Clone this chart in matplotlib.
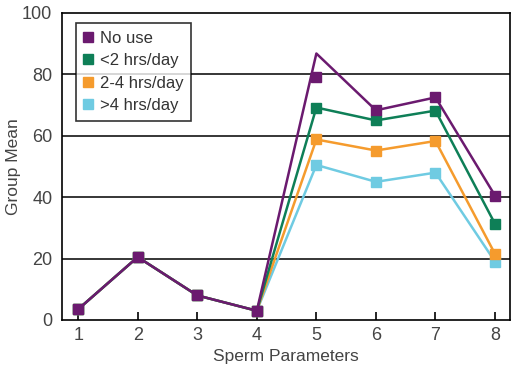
import numpy as np
import matplotlib.pyplot as plt

plt.rcParams['font.family'] = ['Liberation Sans', 'DejaVu Sans']

params = [1, 2, 3, 4, 5, 6, 7, 8]
labels = ["No use", "<2 hrs/day", "2-4 hrs/day", ">4 hrs/day"]
colors = ["#6b1a6f", "#0e7f57", "#f59b2d", "#6fcbe2"]

no_use = [3.5, 20.5, 8, 3, 79, 68.3, 72.5, 40.5]
no_use_line = [3.5, 20.5, 8, 3, 86.8, 68.3, 72.5, 40.5]  # line peak drawn above marker in original
lt2 = [3.5, 20.5, 8, 3, 69.2, 65, 68.2, 31.3]
h2_4 = [3.5, 20.5, 8, 3, 58.8, 55.2, 58.3, 21.5]
gt4 = [3.5, 20.5, 8, 3, 50.5, 45, 48, 19]

fig = plt.figure(figsize=(5.13, 3.71), dpi=100)
ax = fig.add_axes([0.121, 0.1375, 0.873, 0.8275])

series = [gt4, h2_4, lt2]
for vals, lab, col in zip(series, labels[:0:-1], colors[:0:-1]):
    ax.plot(params, vals, color=col, lw=1.8, marker="s", ms=6.5, label=lab, zorder=3)
ax.plot(params, no_use_line, color=colors[0], lw=1.8, zorder=4)
ax.plot(params, no_use, color=colors[0], lw=0, marker="s", ms=6.5, zorder=5)

for g in [20, 40, 60, 80]:
    ax.axhline(g, color="black", lw=1.1, zorder=1)

ax.set_xlim(0.73, 8.25)
ax.set_ylim(0, 100)
ax.set_xticks(params)
ax.set_yticks([0, 20, 40, 60, 80, 100])
ax.tick_params(axis="x", direction="in", length=6, width=1.2, labelsize=13, pad=5,
               labelcolor="#444444")
ax.tick_params(axis="y", length=0, labelsize=13, pad=7, labelcolor="#444444")
for s in ax.spines.values():
    s.set_linewidth(1.2)
ax.set_xlabel("Sperm Parameters", fontsize=12.5, labelpad=4, color="#444444")
ax.set_ylabel("Group Mean", fontsize=12.5, labelpad=1, color="#444444")

handles = [plt.Line2D([], [], lw=0, marker="s", ms=7.5, color=c) for c in colors]
leg = ax.legend(handles, labels, loc="upper left", bbox_to_anchor=(0.031, 0.967),
                borderaxespad=0, fontsize=12, frameon=True, fancybox=False,
                edgecolor="black", handlelength=0.6, handletextpad=0.4,
                borderpad=0.45, labelspacing=0.45)
for t in leg.get_texts():
    t.set_color("#333333")
leg.get_frame().set_linewidth(1.2)
leg.set_zorder(10)

fig.savefig("out.png", dpi=100)
